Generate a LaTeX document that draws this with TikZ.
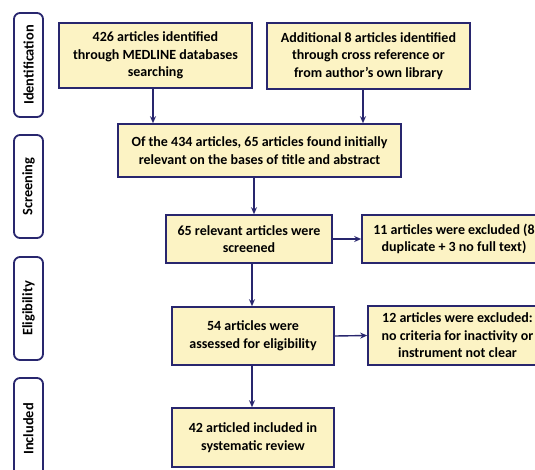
\documentclass[tikz,border=0pt]{standalone}
\usepackage{fontspec}
\setmainfont{Carlito}
\usetikzlibrary{arrows.meta}
\definecolor{boxfill}{RGB}{252,243,196}
\definecolor{navy}{RGB}{40,38,110}
\tikzset{
  box/.style={draw=navy, line width=1.6pt, fill=boxfill, align=center, inner sep=2pt,
    font=\fontsize{14}{17.5}\selectfont\bfseries, text=black},
  side/.style={draw=navy, line width=1.8pt, fill=white, rounded corners=6pt,
    minimum width=29pt, font=\fontsize{14.4}{16}\selectfont\bfseries, text=black, inner sep=0pt},
  arr/.style={draw=navy, line width=1.4pt, -{Stealth[length=7pt,width=6pt]}}
}
\begin{document}
\begin{tikzpicture}[x=1pt,y=-1pt]
\useasboundingbox (0,0) rectangle (535,469);
\clip (0,0) rectangle (535,469);
\node[side, minimum height=104pt] (s1) at (28.5,65) {\rotatebox{90}{Identification}};
\node[side, minimum height=103pt] (s2) at (28.5,186.5) {\rotatebox{90}{Screening}};
\node[side, minimum height=103pt] (s3) at (28.5,308.5) {\rotatebox{90}{Eligibility}};
\node[side, minimum height=102pt] (s4) at (28.5,429) {\rotatebox{90}{Included}};

\node[box, minimum width=193pt, minimum height=65pt] (b1) at (155.5,55.5)
  {426 articles identified\\through MEDLINE databases\\searching};
\node[box, minimum width=203pt, minimum height=66pt] (b2) at (368.5,56)
  {Additional 8 articles identified\\through cross reference or\\from author’s own library};
\node[box, minimum width=283pt, minimum height=53pt] (b3) at (259.5,150.5)
  {Of the 434 articles, 65 articles found initially\\relevant on the bases of title and abstract};
\node[box, minimum width=166pt, minimum height=48pt] (b4) at (249,239)
  {65 relevant articles were\\screened};
\node[box, minimum width=184pt, minimum height=48pt] (b5) at (454,239)
  {11 articles were excluded (8\\duplicate + 3 no full text)};
\node[box, minimum width=162pt, minimum height=58pt] (b6) at (253,336)
  {54 articles were\\assessed for eligibility};
\node[box, minimum width=179pt, minimum height=59pt] (b7) at (457.5,335.5)
  {12 articles were excluded:\\no criteria for inactivity or\\instrument not clear};
\node[box, minimum width=162pt, minimum height=59pt] (b8) at (253,437.5)
  {42 articled included in\\systematic review};

\draw[arr] ([xshift=-2.5pt]b1.south) -- ([xshift=-2.5pt]b1.south |- b3.north);
\draw[arr] ([xshift=-5.5pt]b2.south) -- ([xshift=-5.5pt]b2.south |- b3.north);
\draw[arr] ([xshift=-5.5pt]b3.south) -- ([xshift=-5.5pt]b3.south |- b4.north);
\draw[arr] (b4.east) -- (b5.west);
\draw[arr] ([xshift=-1pt]b4.south -| b6.north) -- ([xshift=-1pt]b6.north);
\draw[arr] (b6.east) -- (b7.west);
\draw[arr] ([xshift=-1pt]b6.south) -- ([xshift=-1pt]b8.north);
\end{tikzpicture}
\end{document}
